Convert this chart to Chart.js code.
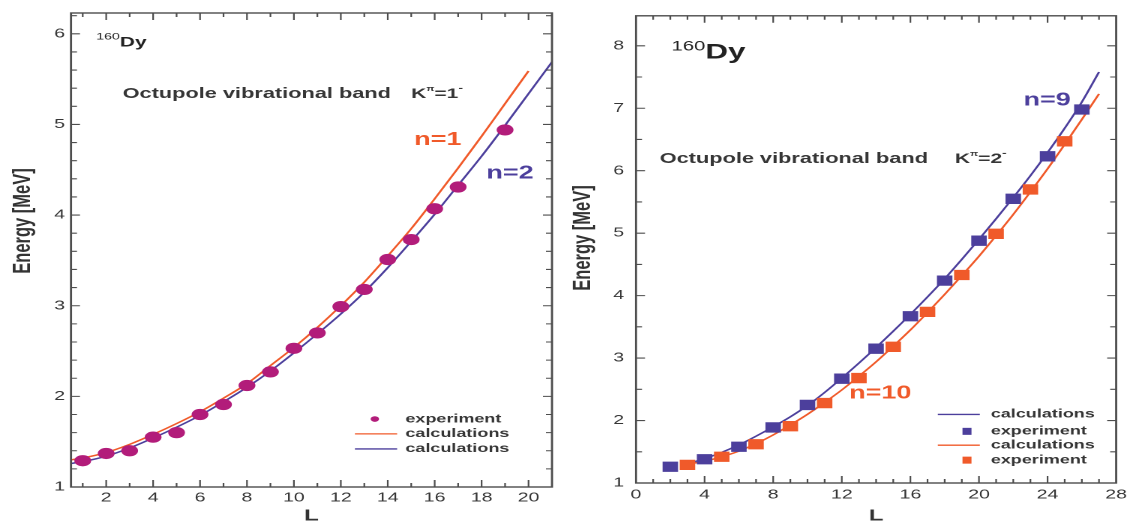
<!DOCTYPE html>
<html>
<head>
<meta charset="utf-8">
<script src="https://cdn.jsdelivr.net/npm/chart.js@4.4.1/dist/chart.umd.min.js"></script>
<style>
html,body{margin:0;padding:0;background:#fff;width:1133px;height:523px;overflow:hidden;}
.panel{position:absolute;top:0;width:378px;height:523px;transform:scaleX(1.5);transform-origin:0 0;}
</style>
</head>
<body>
<div class="panel" style="left:0"><canvas id="cL" width="378" height="523"></canvas></div>
<div class="panel" style="left:566px"><canvas id="cR" width="378" height="523"></canvas></div>
<script>
// ---------- data: left panel (K^pi = 1-) ----------
const leftExpL = [1,2,3,4,5,6,7,8,9,10,11,12,13,14,15,16,17,19];
const leftExpE = [1.29,1.37,1.40,1.55,1.60,1.80,1.91,2.12,2.27,2.53,2.70,2.99,3.18,3.51,3.73,4.07,4.31,4.94];
const leftCalcN1L = [0.5,1,2,3,4,5,6,7,8,9,10,11,12,13,14,15,16,17,18,19,20];
const leftCalcN1E = [1.30,1.32,1.38,1.47,1.58,1.70,1.83,1.98,2.14,2.34,2.54,2.76,3.00,3.26,3.55,3.85,4.18,4.52,4.87,5.23,5.59];
const leftCalcN2L = [0.5,1,2,3,4,5,6,7,8,9,10,11,12,13,14,15,16,17,18,19,20,21];
const leftCalcN2E = [1.26,1.28,1.34,1.43,1.54,1.66,1.79,1.94,2.10,2.28,2.48,2.69,2.91,3.15,3.42,3.71,4.01,4.33,4.65,4.99,5.34,5.69];
const leftXTicks = [2,4,6,8,10,12,14,16,18,20];
const leftYTicks = [1,2,3,4,5,6];

// ---------- data: right panel (K^pi = 2-) ----------
const rightExpN9L = [2,4,6,8,10,12,14,16,18,20,22,24,26];
const rightExpN9E = [1.26,1.38,1.58,1.89,2.25,2.67,3.15,3.67,4.24,4.88,5.55,6.23,6.98];
const rightExpN10L = [3,5,7,9,11,13,15,17,19,21,23,25];
const rightExpN10E = [1.29,1.42,1.62,1.91,2.28,2.68,3.18,3.74,4.33,4.99,5.70,6.47];
const rightCalcN9L = [3,4,5,6,7,8,9,10,11,12,13,14,15,16,17,18,19,20,21,22,23,24,25,26,27];
const rightCalcN9E = [1.31,1.39,1.49,1.61,1.75,1.90,2.06,2.24,2.45,2.68,2.92,3.17,3.43,3.70,3.98,4.27,4.58,4.90,5.23,5.57,5.92,6.29,6.68,7.10,7.58];
const rightCalcN10L = [3,4,5,6,7,8,9,10,11,12,13,14,15,16,17,18,19,20,21,22,23,24,25,26,27];
const rightCalcN10E = [1.30,1.35,1.42,1.51,1.63,1.77,1.93,2.10,2.29,2.49,2.71,2.94,3.19,3.45,3.73,4.02,4.32,4.63,4.96,5.30,5.66,6.03,6.42,6.82,7.23];
const rightXTicks = [0,4,8,12,16,20,24,28];
const rightYTicks = [1,2,3,4,5,6,7,8];

// ---------- styles ----------
const FONT = "'Liberation Sans', Arial, Helvetica, sans-serif";
const ORANGE = '#f05a2a';
const BLUE = '#4c3f9c';
const MAGENTA = '#b21c7a';
const AXIS = '#4d4d4d';
const TEXT = '#363636';

function pts(xs, ys) { return xs.map((x, i) => ({ x: x, y: ys[i] })); }

function runs(ctx, x, y, parts) {
  let cx = x;
  ctx.textAlign = 'left';
  ctx.textBaseline = 'alphabetic';
  parts.forEach(p => {
    ctx.font = (p.weight || 'bold') + ' ' + p.size + 'px ' + FONT;
    ctx.fillStyle = p.color || TEXT;
    ctx.fillText(p.t, cx, y + (p.dy || 0));
    cx += ctx.measureText(p.t).width + (p.gap || 0);
  });
}
function label(ctx, s, x, y, size, color, weight) {
  ctx.font = (weight || 'bold') + ' ' + size + 'px ' + FONT;
  ctx.fillStyle = color || TEXT;
  ctx.textAlign = 'left';
  ctx.textBaseline = 'middle';
  ctx.fillText(s, x, y);
}
function yTitle(ctx, s, x, y) {
  ctx.save();
  ctx.translate(x, y);
  ctx.rotate(-Math.PI / 2);
  ctx.font = 'bold 16.5px ' + FONT;
  ctx.fillStyle = '#333';
  ctx.textAlign = 'center';
  ctx.textBaseline = 'middle';
  ctx.fillText(s, 0, 0);
  ctx.restore();
}

function framePlugin(opt) {
  return {
    id: 'frameTicks',
    afterDraw(chart) {
      const ctx = chart.ctx, a = chart.chartArea;
      const X = v => chart.scales.x.getPixelForValue(v);
      const Y = v => chart.scales.y.getPixelForValue(v);
      ctx.save();
      ctx.strokeStyle = AXIS;
      ctx.lineWidth = 1.1;
      ctx.beginPath();
      opt.xTicks.forEach(t => {
        const px = X(t.v), len = t.major ? 7 : 4;
        ctx.moveTo(px, a.bottom); ctx.lineTo(px, a.bottom - len);
        ctx.moveTo(px, a.top); ctx.lineTo(px, a.top + len);
      });
      opt.yTicks.forEach(t => {
        const py = Y(t.v), len = t.major ? 6 : 4;
        ctx.moveTo(a.left, py); ctx.lineTo(a.left + len, py);
        ctx.moveTo(a.right, py); ctx.lineTo(a.right - len, py);
      });
      ctx.stroke();
      ctx.lineWidth = 1.4;
      ctx.strokeRect(a.left, a.top, a.right - a.left, a.bottom - a.top);
      yTitle(ctx, 'Energy [MeV]', opt.titleX, opt.titleY);
      opt.annot(ctx, X, Y);
      ctx.restore();
    }
  };
}

function makeScales(o) {
  return {
    x: {
      type: 'linear', min: o.xmin, max: o.xmax,
      grid: { display: false, drawTicks: false }, border: { display: false },
      afterBuildTicks: s => { s.ticks = o.xTicks.map(v => ({ value: v })); },
      afterFit: s => { s.height = o.xHeight; },
      ticks: { autoSkip: false, maxRotation: 0, padding: o.xPad, color: TEXT, font: { family: FONT, size: 13 } },
      title: { display: true, text: 'L', color: '#333', padding: 0, font: { family: FONT, size: 16, weight: 'bold', lineHeight: 0.875 } }
    },
    y: {
      type: 'linear', min: o.ymin, max: o.ymax,
      grid: { display: false, drawTicks: false }, border: { display: false },
      afterBuildTicks: s => { s.ticks = o.yTicks.map(v => ({ value: v })); },
      afterFit: s => { s.width = o.yWidth; },
      ticks: { autoSkip: false, padding: o.yPad, color: TEXT, font: { family: FONT, size: 13 } },
      title: { display: false }
    }
  };
}

// ---------- left chart ----------
const leftXT = [], leftYT = [];
for (let v = 1; v <= 20; v++) leftXT.push({ v: v, major: v % 2 === 0 });
for (let k = 6; k <= 31; k++) leftYT.push({ v: k / 5, major: k % 5 === 0 });

new Chart(document.getElementById('cL'), {
  type: 'scatter',
  data: {
    datasets: [
      { label: 'experiment', data: pts(leftExpL, leftExpE), showLine: false, pointStyle: 'circle', pointRadius: 5.6, pointBackgroundColor: MAGENTA, pointBorderWidth: 0 },
      { label: 'calculations n=1', data: pts(leftCalcN1L, leftCalcN1E), showLine: true, borderColor: ORANGE, borderWidth: 1.5, pointRadius: 0, cubicInterpolationMode: 'monotone' },
      { label: 'calculations n=2', data: pts(leftCalcN2L, leftCalcN2E), showLine: true, borderColor: BLUE, borderWidth: 1.5, pointRadius: 0, cubicInterpolationMode: 'monotone' }
    ]
  },
  options: {
    responsive: false, animation: false, devicePixelRatio: 2,
    layout: { padding: { top: 13, right: 10, left: 0, bottom: 0 } },
    plugins: { legend: { display: false }, tooltip: { enabled: false } },
    scales: makeScales({ xmin: 0.5, xmax: 21, ymin: 1, ymax: 6.23, xTicks: leftXTicks, yTicks: leftYTicks, xHeight: 36, yWidth: 47.33, xPad: 3, yPad: 4 })
  },
  plugins: [framePlugin({
    xTicks: leftXT, yTicks: leftYT, titleX: 15.3, titleY: 221,
    annot(ctx, X, Y) {
      runs(ctx, X(1.57), Y(5.86), [
        { t: '160', size: 9.5, weight: 'normal', dy: -7, color: '#222' },
        { t: 'Dy', size: 14, color: '#222' }
      ]);
      runs(ctx, X(2.7), Y(5.29), [{ t: 'Octupole vibrational band', size: 14.5 }]);
      runs(ctx, X(15.0), Y(5.29), [
        { t: 'K', size: 14 },
        { t: 'π', size: 7, dy: -7 },
        { t: '=1', size: 14 },
        { t: '-', size: 9, dy: -7 }
      ]);
      label(ctx, 'n=1', X(15.13), Y(4.83), 18, ORANGE);
      label(ctx, 'n=2', X(18.2), Y(4.46), 18, BLUE);
      // legend
      ctx.fillStyle = MAGENTA;
      ctx.beginPath(); ctx.arc(X(13.45), Y(1.75), 2.8, 0, Math.PI * 2); ctx.fill();
      label(ctx, 'experiment', X(14.75), Y(1.75), 12, TEXT);
      ctx.lineWidth = 1.3;
      ctx.strokeStyle = ORANGE;
      ctx.beginPath(); ctx.moveTo(X(12.6), Y(1.586)); ctx.lineTo(X(14.4), Y(1.586)); ctx.stroke();
      label(ctx, 'calculations', X(14.75), Y(1.586), 12, TEXT);
      ctx.strokeStyle = BLUE;
      ctx.beginPath(); ctx.moveTo(X(12.6), Y(1.42)); ctx.lineTo(X(14.4), Y(1.42)); ctx.stroke();
      label(ctx, 'calculations', X(14.75), Y(1.42), 12, TEXT);
    }
  })]
});

// ---------- right chart ----------
const rightXT = [], rightYT = [];
for (let v = 1; v <= 27; v++) rightXT.push({ v: v, major: v % 4 === 0 });
for (let k = 3; k <= 16; k++) rightYT.push({ v: k / 2, major: k % 2 === 0 });

new Chart(document.getElementById('cR'), {
  type: 'scatter',
  data: {
    datasets: [
      { label: 'experiment n=9', data: pts(rightExpN9L, rightExpN9E), showLine: false, pointStyle: 'rect', pointRadius: 7.3, pointBackgroundColor: BLUE, pointBorderWidth: 0 },
      { label: 'experiment n=10', data: pts(rightExpN10L, rightExpN10E), showLine: false, pointStyle: 'rect', pointRadius: 7.3, pointBackgroundColor: ORANGE, pointBorderWidth: 0 },
      { label: 'calculations n=9', data: pts(rightCalcN9L, rightCalcN9E), showLine: true, borderColor: BLUE, borderWidth: 1.5, pointRadius: 0, cubicInterpolationMode: 'monotone' },
      { label: 'calculations n=10', data: pts(rightCalcN10L, rightCalcN10E), showLine: true, borderColor: ORANGE, borderWidth: 1.5, pointRadius: 0, cubicInterpolationMode: 'monotone' }
    ]
  },
  options: {
    responsive: false, animation: false, devicePixelRatio: 2,
    layout: { padding: { top: 12, right: 10, left: 0, bottom: 0 } },
    plugins: { legend: { display: false }, tooltip: { enabled: false } },
    scales: makeScales({ xmin: 0, xmax: 28, ymin: 1, ymax: 8.48, xTicks: rightXTicks, yTicks: rightYTicks, xHeight: 40, yWidth: 46.67, xPad: 4, yPad: 8 })
  },
  plugins: [framePlugin({
    xTicks: rightXT, yTicks: rightYT, titleX: 11.5, titleY: 238,
    annot(ctx, X, Y) {
      runs(ctx, X(2.07), Y(7.80), [
        { t: '160', size: 13.5, weight: 'normal', dy: -8, color: '#222' },
        { t: 'Dy', size: 21, color: '#222' }
      ]);
      runs(ctx, X(1.38), Y(6.12), [{ t: 'Octupole vibrational band', size: 14.5 }]);
      runs(ctx, X(18.6), Y(6.12), [
        { t: 'K', size: 14 },
        { t: 'π', size: 7, dy: -7 },
        { t: '=2', size: 14 },
        { t: '-', size: 9, dy: -7 }
      ]);
      label(ctx, 'n=9', X(22.6), Y(7.12), 18, BLUE);
      label(ctx, 'n=10', X(12.43), Y(2.43), 18, ORANGE);
      // legend
      ctx.lineWidth = 1.3;
      ctx.strokeStyle = BLUE;
      ctx.beginPath(); ctx.moveTo(X(17.6), Y(2.098)); ctx.lineTo(X(20.05), Y(2.098)); ctx.stroke();
      label(ctx, 'calculations', X(20.69), Y(2.098), 12, TEXT);
      ctx.fillStyle = BLUE;
      ctx.fillRect(X(19.3) - 3, Y(1.827) - 3.5, 6, 7);
      label(ctx, 'experiment', X(20.69), Y(1.827), 12, TEXT);
      ctx.strokeStyle = ORANGE;
      ctx.beginPath(); ctx.moveTo(X(17.6), Y(1.605)); ctx.lineTo(X(20.05), Y(1.605)); ctx.stroke();
      label(ctx, 'calculations', X(20.69), Y(1.605), 12, TEXT);
      ctx.fillStyle = ORANGE;
      ctx.fillRect(X(19.3) - 3, Y(1.366) - 3.5, 6, 7);
      label(ctx, 'experiment', X(20.69), Y(1.366), 12, TEXT);
    }
  })]
});
</script>
</body>
</html>
